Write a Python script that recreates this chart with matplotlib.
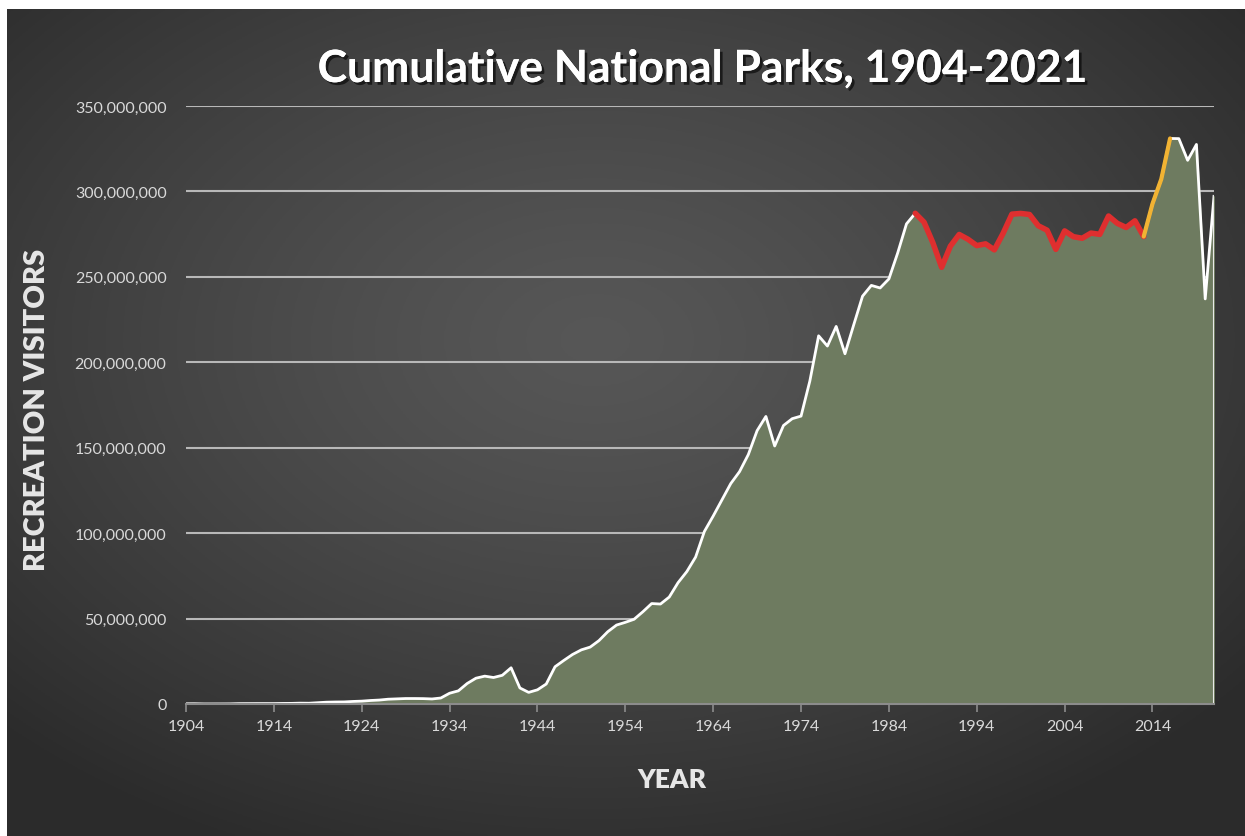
import matplotlib.pyplot as plt
import matplotlib.patheffects as pe
import numpy as np

years = list(range(1904, 2022))
visitors_m = [
    0.12, 0.14, 0.03, 0.03, 0.04, 0.06, 0.20, 0.22, 0.24, 0.25,
    0.24, 0.33, 0.36, 0.49, 0.45, 0.76, 1.06, 1.17, 1.22, 1.49,
    1.67, 2.05, 2.31, 2.80, 3.00, 3.20, 3.20, 3.15, 2.95, 3.50,
    6.3, 7.7, 12.0, 15.1, 16.3, 15.5, 16.8, 21.2, 9.4, 6.8,
    8.3, 11.7, 21.8, 25.5, 29.0, 31.7, 33.3, 37.1, 42.3, 46.2,
    47.8, 49.6, 54.0, 58.8, 58.5, 62.6, 71.0, 77.5, 86.0, 101.0,
    110.0, 119.5, 129.0, 136.0, 146.0, 160.0, 168.3, 151.0, 163.0, 167.0,
    168.5, 189.0, 215.5, 209.5, 221.0, 205.0, 222.0, 238.7, 245.0, 243.5,
    248.8, 264.0, 281.0, 287.2, 282.0, 270.0, 255.6, 268.0, 274.8, 272.0,
    268.3, 269.3, 265.8, 275.5, 286.7, 287.1, 286.5, 279.9, 277.3, 266.1,
    276.9, 273.5, 272.6, 275.6, 274.9, 285.6, 281.3, 278.9, 282.8, 273.6,
    292.8, 307.2, 331.0, 330.9, 318.2, 327.5, 237.1, 297.1,
]
visitors = np.array(visitors_m) * 1e6
years = np.array(years)

red_span = (1987, 2013)
orange_span = (2013, 2016)

x_ticks = list(range(1904, 2015, 10))
y_ticks = list(range(0, 350000001, 50000000))

fig = plt.figure(figsize=(12.45, 8.37), dpi=100)
fig.patch.set_facecolor('white')

# dark radial gradient background
bg = fig.add_axes([7 / 1245, 0, 1 - 7 / 1245, 1 - 10 / 837])
gx, gy = np.meshgrid(np.linspace(-1, 1, 400), np.linspace(-1, 1, 300))
r = np.sqrt((gx + 0.05) ** 2 + (gy + 0.2) ** 2)
r = np.clip(r / 1.35, 0, 1)
shade = 0.34 - 0.17 * r ** 1.3
bg.imshow(np.dstack([shade, shade, shade]), aspect='auto', extent=[0, 1, 0, 1])
bg.axis('off')

ax = fig.add_axes([186 / 1245, 1 - 705 / 837, (1214 - 186) / 1245, (705 - 107) / 837])
ax.set_facecolor('none')

ax.fill_between(years, visitors, color='#6e7b60', zorder=2)
ax.plot(years, visitors, color='white', lw=2, zorder=3)
ax.plot([years[-1], years[-1]], [0, visitors[-1]], color='#e8e8e8', lw=1.5, zorder=3)

m = (years >= red_span[0]) & (years <= red_span[1])
ax.plot(years[m], visitors[m], color='#df2f2f', lw=4, zorder=4, solid_capstyle='round')
m = (years >= orange_span[0]) & (years <= orange_span[1])
ax.plot(years[m], visitors[m], color='#f2b333', lw=3, zorder=4, solid_capstyle='round')

ax.set_xlim(1904, 2021)
ax.set_ylim(0, 350000000)
ax.set_xticks(x_ticks)
ax.set_xticklabels([str(t) for t in x_ticks])
ax.set_yticks(y_ticks)
ax.set_yticklabels(['{:,}'.format(t) for t in y_ticks])

ax.grid(axis='y', color='#b8b8b8', lw=1.5, zorder=1)
for s in ['top', 'right', 'left']:
    ax.spines[s].set_visible(False)
ax.spines['bottom'].set_color('#8c8c8c')
ax.spines['bottom'].set_linewidth(1.5)
ax.spines['bottom'].set_zorder(5)

ax.tick_params(axis='y', length=0, pad=14, labelsize=11.5, labelcolor='#d9d9d9')
ax.tick_params(axis='x', length=6, width=1.2, color='#8c8c8c', pad=5,
               labelsize=11.5, labelcolor='#d9d9d9')
for lbl in ax.get_xticklabels() + ax.get_yticklabels():
    lbl.set_family('Lato')

shadow = [pe.withSimplePatchShadow(offset=(2, -2), shadow_rgbFace='black', alpha=0.6), pe.Normal()]
fig.text(703 / 1245, 1 - 70 / 837, 'Cumulative National Parks, 1904-2021', ha='center', va='center',
         fontsize=32, fontweight='bold', color='white', family='Lato', path_effects=shadow)
fig.text(37 / 1245, 1 - 410 / 837, 'RECREATION VISITORS', rotation=90, ha='center', va='center',
         fontsize=21, fontweight='heavy', color='#e6e6e6', family='Lato')
fig.text(672 / 1245, 1 - 780 / 837, 'YEAR', ha='center', va='center',
         fontsize=19, fontweight='heavy', color='#e6e6e6', family='Lato')

plt.savefig('out.png', dpi=100)
